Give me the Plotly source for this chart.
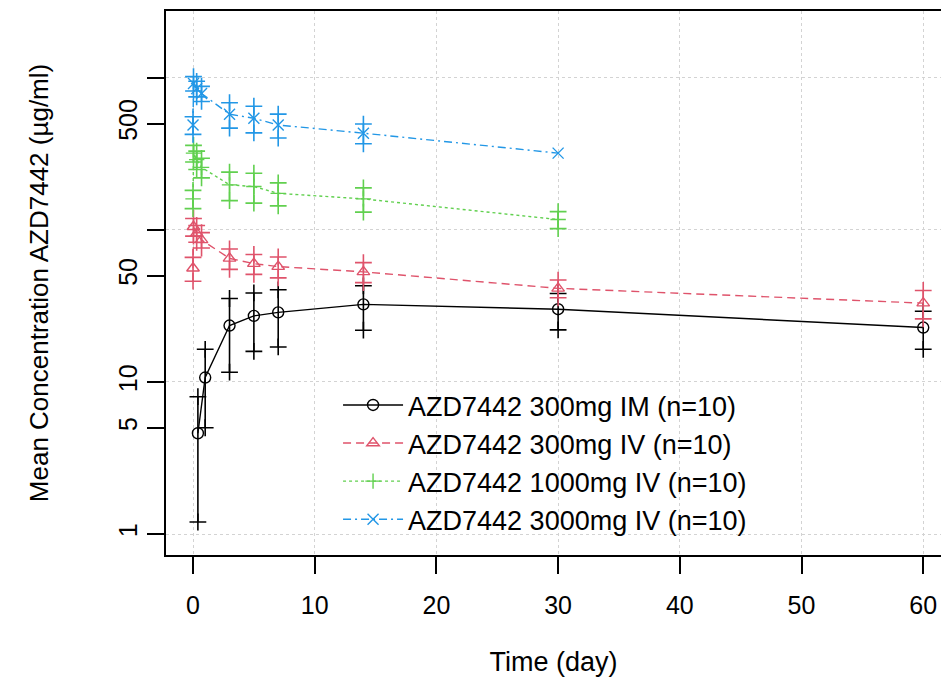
import plotly.graph_objects as go

# mean concentration (ug/ml) and SD by nominal time (day)
t_im = [0.4, 1, 3, 5, 7, 14, 30, 60]
mean_im = [4.6, 10.7, 23.5, 27.2, 28.7, 32.4, 30.1, 22.8]
sd_im = [3.4, 5.7, 11.9, 11.3, 11.7, 10.5, 8.1, 6.4]

t_iv300 = [0, 0.04, 0.3, 0.7, 3, 5, 7, 14, 30, 60]
mean_iv300 = [56, 105, 95, 86, 65, 60, 57.4, 53, 41.3, 33]
sd_iv300 = [10, 14, 12, 10, 10, 9, 9, 8, 5.5, 7]

t_iv1000 = [0, 0.04, 0.3, 0.7, 3, 5, 7, 14, 30]
mean_iv1000 = [160, 320, 290, 258, 198, 193, 174, 160, 117]
sd_iv1000 = [22, 40, 40, 38, 42, 43, 30, 29, 15]

t_iv3000 = [0, 0.04, 0.3, 0.7, 3, 5, 7, 14, 30]
mean_iv3000 = [490, 920, 850, 790, 577, 543, 490, 433, 320]
sd_iv3000 = [65, 100, 100, 90, 110, 108, 88, 64, None]

names = ["AZD7442 300mg IM (n=10)", "AZD7442 300mg IV (n=10)",
         "AZD7442 1000mg IV (n=10)", "AZD7442 3000mg IV (n=10)"]
colors = ["black", "#DF536B", "#61D04F", "#2297E6"]
symbols = ["circle-open", "triangle-up-open", "cross-thin-open", "x-thin-open"]
dashes = ["solid", "8px,5px", "3px,3px", "8px,4px,2px,4px"]

yticks = [1, 5, 10, 50, 100, 500, 1000]
ytext = ["1", "5", "10", "50", "", "500", ""]

FONT = "Liberation Sans, Arial, sans-serif"

series = [(t_im, mean_im, sd_im), (t_iv300, mean_iv300, sd_iv300),
          (t_iv1000, mean_iv1000, sd_iv1000), (t_iv3000, mean_iv3000, sd_iv3000)]

fig = go.Figure()
for (t, m, s), name, col, sym, dash in zip(series, names, colors, symbols, dashes):
    err = [v if v is not None else float("nan") for v in s]
    hi = [mm + v if v is not None else None for mm, v in zip(m, s)]
    lo = [mm - v if v is not None else None for mm, v in zip(m, s)]
    # vertical SD bars
    fig.add_trace(go.Scatter(x=t, y=m, mode="none", showlegend=False,
                             error_y=dict(type="data", array=err, visible=True,
                                          color=col, thickness=1.6, width=0)))
    # "+" caps at the bar ends
    fig.add_trace(go.Scatter(x=t + t, y=hi + lo, mode="markers", showlegend=False,
                             marker=dict(symbol="cross-thin", size=12,
                                         line=dict(color=col, width=1.6))))
    fig.add_trace(go.Scatter(x=t, y=m, mode="lines+markers", name=name,
                             line=dict(color=col, width=1.4, dash=dash),
                             marker=dict(symbol=sym, size=11, color=col,
                                         line=dict(color=col, width=1.4))))

fig.update_layout(
    width=941, height=682,
    margin=dict(l=166, r=0, t=11, b=127),
    plot_bgcolor="white", paper_bgcolor="white",
    font=dict(family=FONT, color="black"),
    legend=dict(x=0.222, y=0.32, xanchor="left", yanchor="top",
                font=dict(size=27, family=FONT), bgcolor="rgba(0,0,0,0)",
                itemwidth=60, tracegroupgap=0),
)
fig.update_xaxes(
    range=[-2.22, 61.46], tickvals=[0, 10, 20, 30, 40, 50, 60],
    showline=True, mirror=True, linecolor="black", linewidth=2,
    ticks="outside", ticklen=17, tickwidth=2, tickcolor="black",
    tickfont=dict(size=25), ticklabelstandoff=10,
    showgrid=True, gridcolor="#d3d3d3", griddash="3px,3px", gridwidth=1.2,
    zeroline=False,
    title=dict(text="Time (day)", font=dict(size=27), standoff=34),
    automargin=False,
)
fig.update_yaxes(
    type="log", range=[-0.138, 3.44], tickvals=yticks, ticktext=ytext,
    tickangle=-90,
    showline=True, mirror=False, linecolor="black", linewidth=2,
    ticks="outside", ticklen=17, tickwidth=2, tickcolor="black",
    tickfont=dict(size=25), ticklabelstandoff=0,
    showgrid=False, zeroline=False,
    minor=dict(tickvals=[1, 10, 100, 1000], ticks="", showgrid=True,
               gridcolor="#d3d3d3", griddash="3px,3px", gridwidth=1.2),
    title=dict(text="Mean Concentration AZD7442 (µg/ml)", font=dict(size=26),
               standoff=58),
    automargin=False,
)

# drop the page's default body margin so the figure fills the window exactly
fig.write_html("out.html",
               config={"displayModeBar": False},
               post_script="document.body.style.margin='0';"
                           "document.body.style.overflow='hidden';")
